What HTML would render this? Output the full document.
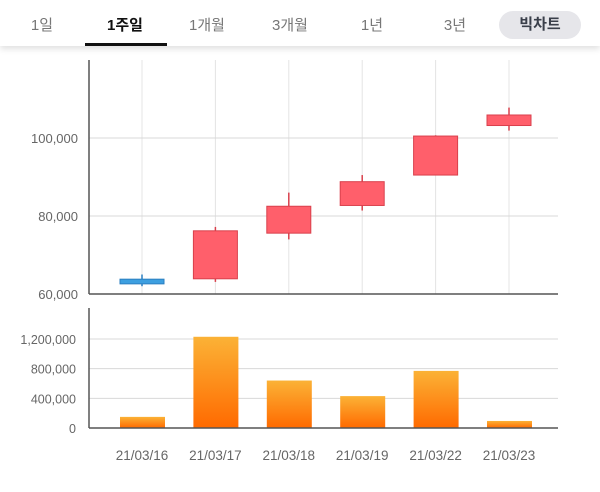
<!DOCTYPE html>
<html><head><meta charset="utf-8"><style>
body{margin:0;width:600px;height:492px;background:#fff;overflow:hidden;font-family:"Liberation Sans","Noto Sans CJK KR",sans-serif}
.hdr{position:absolute;left:0;top:0;width:600px;height:46px;background:#fff;box-shadow:0 3px 6px rgba(0,0,0,0.12)}
.tab{position:absolute;top:14px;font-size:15px;color:#777;transform:translateX(-50%);white-space:nowrap}
.tab.on{color:#111;font-weight:bold}
.ul{position:absolute;left:85px;top:43px;width:82px;height:3px;background:#111}
.pill{position:absolute;left:499px;top:11px;width:82px;height:28px;border-radius:14px;background:#e6e6ea;color:#3a3f4a;font-weight:bold;font-size:15px;text-align:center;line-height:28px}
svg{position:absolute;left:0;top:0}
</style></head><body>
<div class="hdr">
<span class="tab" style="left:42px">1일</span>
<span class="tab on" style="left:125px">1주일</span>
<span class="tab" style="left:207px">1개월</span>
<span class="tab" style="left:290px">3개월</span>
<span class="tab" style="left:372px">1년</span>
<span class="tab" style="left:455px">3년</span>
<div class="ul"></div>
<div class="pill">빅차트</div>
</div>
<svg id="c" width="600" height="492">
<defs><linearGradient id="vg" x1="0" y1="0" x2="0" y2="1"><stop offset="0" stop-color="#fbb236"/><stop offset="1" stop-color="#ff6a00"/></linearGradient></defs>
</svg>
<script>
const dates=["21/03/16","21/03/17","21/03/18","21/03/19","21/03/22","21/03/23"];
const opens=[63800,63900,75600,82700,90500,103200];
const closes=[62600,76200,82500,88800,100500,105900];
const highs=[65000,77200,86000,90500,100700,107800];
const lows=[62000,63100,74000,81400,90500,101900];
const volumes=[150000,1230000,640000,430000,770000,95000];
const priceTicks=[60000,80000,100000];
const volTicks=[0,400000,800000,1200000];
const NS="http://www.w3.org/2000/svg";
const svg=document.getElementById('c');
function el(t,a){const e=document.createElementNS(NS,t);for(const k in a)e.setAttribute(k,a[k]);svg.appendChild(e);return e;}
const L=89,R=558;
const xC=i=>142+i*73.4;
const yP=v=>294-(v-60000)*78/20000;
const yV=v=>428-v*89/1200000;
// grids
for(let i=0;i<dates.length;i++){const g=el('line',{x1:xC(i),x2:xC(i),y1:60,y2:294,stroke:'#e4e4e4','stroke-width':1});

}
priceTicks.forEach(t=>{
 if(t>60000){const g=el('line',{x1:L,x2:R,y1:yP(t),y2:yP(t),stroke:'#d8d8d8'});
 
 }
 const tx=el('text',{x:78,y:yP(t)+5,'text-anchor':'end','font-size':13,fill:'#666'});tx.textContent=t.toLocaleString('en-US');
 
 
});
volTicks.forEach(t=>{
 if(t>0){const g=el('line',{x1:L,x2:R,y1:yV(t),y2:yV(t),stroke:'#d8d8d8'});
 
 }
 const tx=el('text',{x:76,y:yV(t)+5,'text-anchor':'end','font-size':12.5,fill:'#666'});tx.textContent=t.toLocaleString('en-US');
 
 
});
// candles
dates.forEach((d,i)=>{
 const up=closes[i]>=opens[i];const fill=up?'#ff5f6b':'#3d9fe0',st=up?'#d9404c':'#2b7fc0';
 const w=el('line',{x1:xC(i),x2:xC(i),y1:yP(highs[i]),y2:yP(lows[i]),stroke:st,'stroke-width':1.5});
 
 
 const t=yP(Math.max(opens[i],closes[i])),b=yP(Math.min(opens[i],closes[i]));
 const r=el('rect',{x:xC(i)-22,y:t,width:44,height:Math.max(b-t,2),fill:fill,stroke:st,'stroke-width':1});
 
 
 const v=el('rect',{x:xC(i)-22,y:yV(volumes[i]),width:45,height:428-yV(volumes[i]),fill:'url(#vg)'});
 
 
 const tx=el('text',{x:xC(i),y:460,'text-anchor':'middle','font-size':13.5,fill:'#666'});tx.textContent=d;
 
 
});
// axes
[[L,60,L,294],[L,294,R,294],[L,308,L,428],[L,428,R,428]].forEach(a=>{
 const l=el('line',{x1:a[0],y1:a[1],x2:a[2],y2:a[3],stroke:'#555','stroke-width':1.5});
 
 
});
</script>
</body></html>
